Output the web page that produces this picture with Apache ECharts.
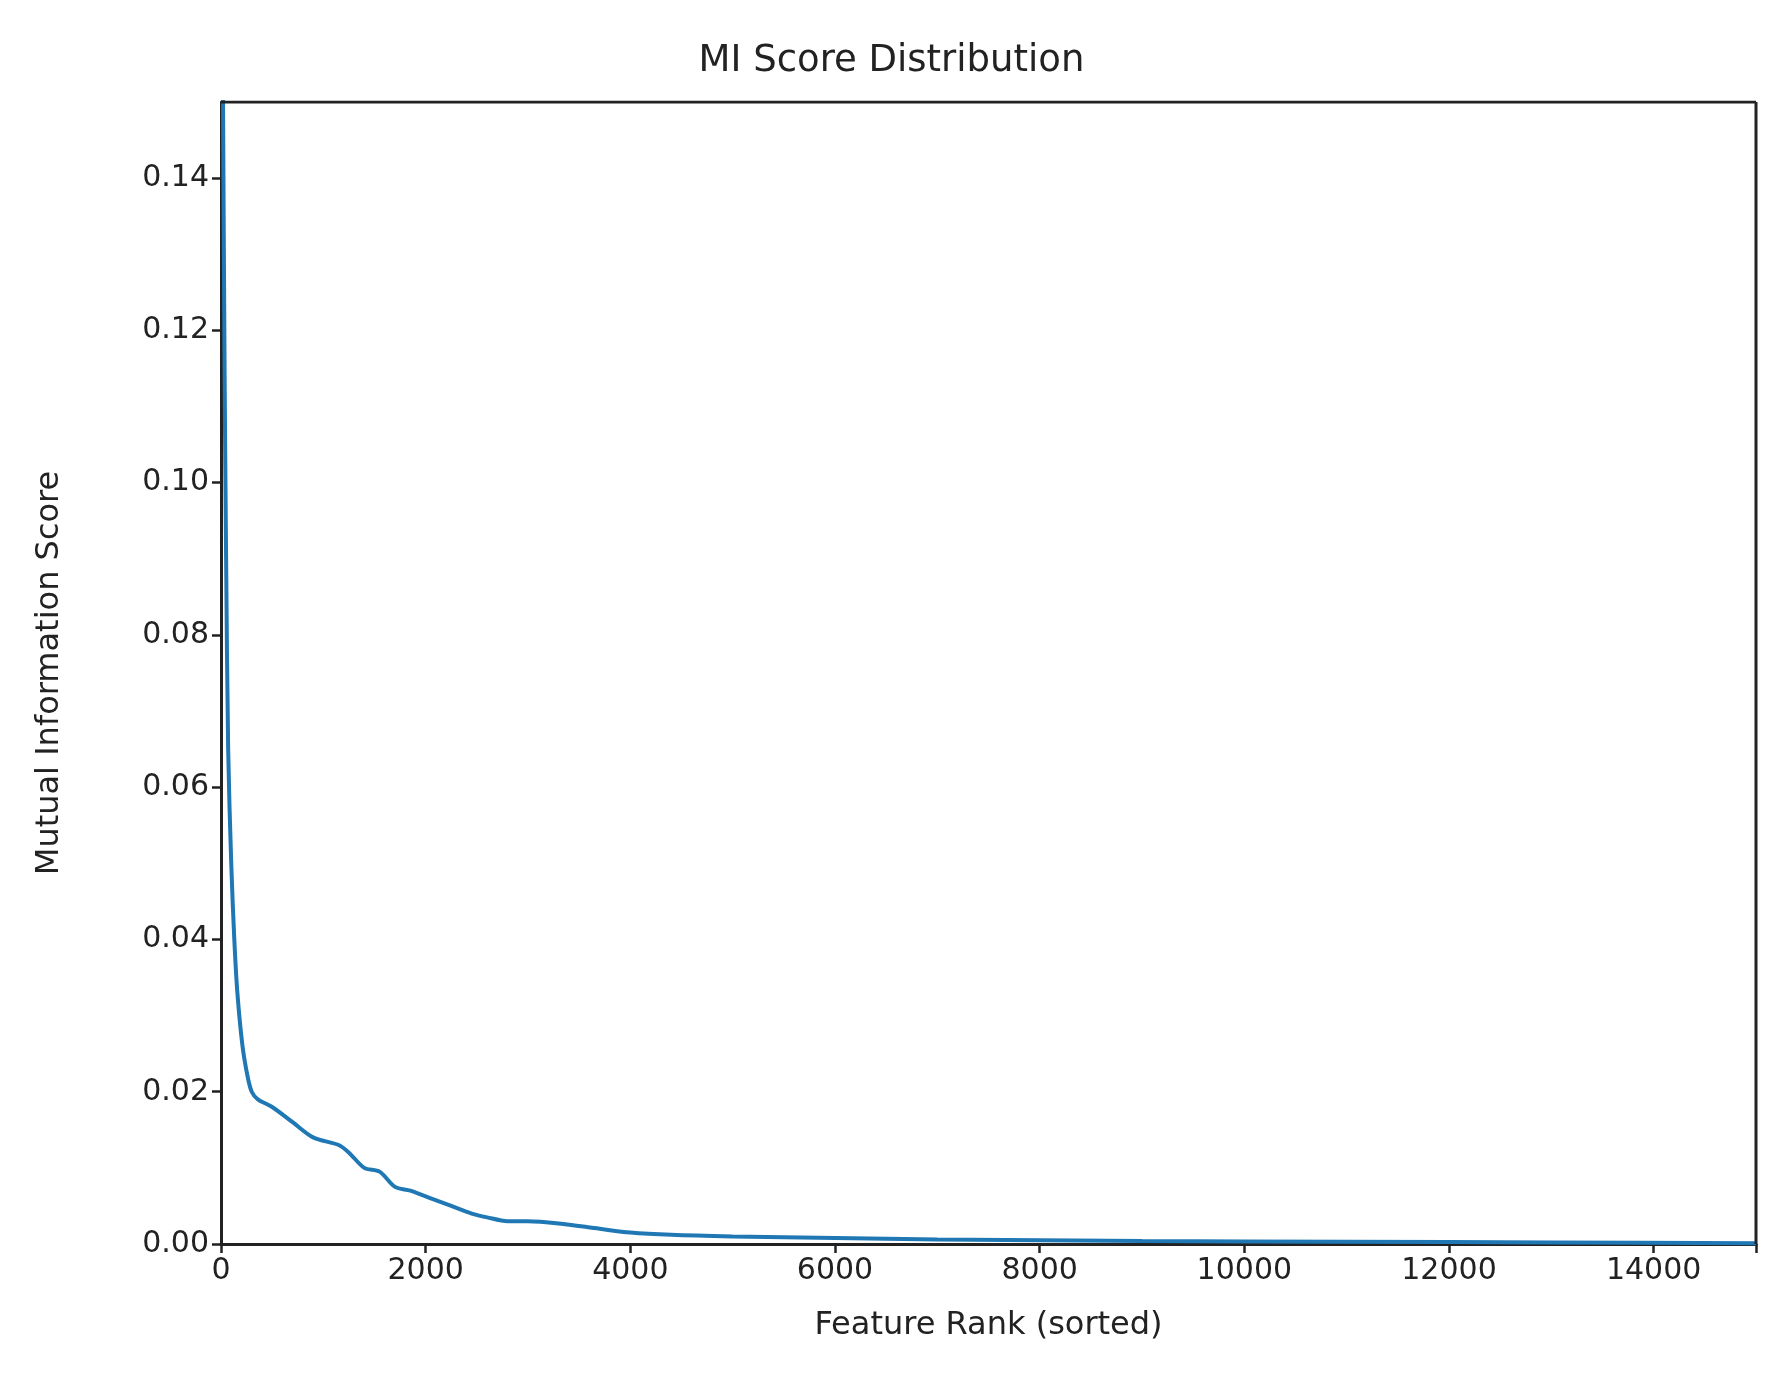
<!DOCTYPE html>
<html><head><meta charset="utf-8">
<script src="https://cdn.jsdelivr.net/npm/echarts@6/dist/echarts.min.js"></script>
<style>html,body{margin:0;background:#fff}#c{width:1783px;height:1396px}</style>
</head><body><div id="c"></div>
<script>
const ranks = [0,10,20,35,50,70,100,130,160,210,260,300,360,500,700,900,1150,1250,1400,1550,1700,1850,2050,2250,2450,2600,2800,3000,3300,3700,4000,4400,5000,6000,7000,9000,11000,13000,15000];
const scores = [0.25,0.18,0.15,0.115,0.09,0.065,0.05,0.04,0.033,0.026,0.022,0.020,0.019,0.018,0.016,0.014,0.013,0.012,0.010,0.0095,0.0075,0.007,0.006,0.005,0.004,0.0035,0.003,0.003,0.0027,0.002,0.0015,0.0012,0.001,0.0008,0.0006,0.0004,0.0003,0.0002,0.0001];
const xTicks = [0,2000,4000,6000,8000,10000,12000,14000];
const c = echarts.init(document.getElementById('c'));
const ff = 'DejaVu Sans';
c.setOption({
  animation:false,
  title:{text:'MI Score Distribution',left:'center',top:38,textStyle:{fontFamily:ff,fontSize:37,fontWeight:'normal',color:'#222'}},
  grid:{left:221,right:27,top:102,bottom:152},
  xAxis:{type:'value',min:0,max:15000,interval:2000,name:'Feature Rank (sorted)',nameLocation:'middle',nameGap:66,
    nameTextStyle:{fontFamily:ff,fontSize:32,color:'#222'},
    axisLine:{lineStyle:{color:'#222',width:3}},axisTick:{length:9,lineStyle:{width:2.5,color:'#222'}},
    axisLabel:{fontFamily:ff,fontSize:30,color:'#222',margin:12,formatter:v=>xTicks.includes(v)?String(v):''},splitLine:{show:false}},
  yAxis:{type:'value',min:0,max:0.15,interval:0.02,name:'Mutual Information Score',nameLocation:'middle',nameGap:155,
    nameTextStyle:{fontFamily:ff,fontSize:32,color:'#222'},
    axisLine:{lineStyle:{color:'#222',width:3}},axisTick:{length:9,lineStyle:{width:2.5,color:'#222'}},
    axisLabel:{fontFamily:ff,fontSize:30,color:'#222',margin:12,formatter:v=>v.toFixed(2),showMaxLabel:false},splitLine:{show:false}},
  series:[{type:'line',data:ranks.map((r,i)=>[r,scores[i]]),showSymbol:false,clip:true,smooth:0.3,
    lineStyle:{color:'#1f77b4',width:4}},
    {type:'line',data:[[0,0.15],[15000,0.15]],showSymbol:false,lineStyle:{color:'#222',width:3},silent:true},
    {type:'line',data:[[15000,0],[15000,0.15]],showSymbol:false,lineStyle:{color:'#222',width:3},silent:true}]
});
</script></body></html>
